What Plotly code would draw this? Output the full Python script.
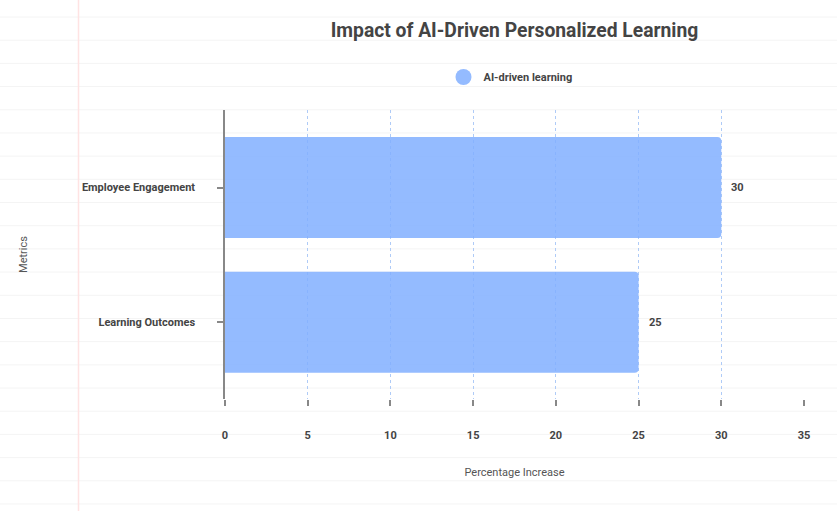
import plotly.graph_objects as go

# Data
metrics = ["Employee Engagement", "Learning Outcomes"]
increase = [30, 25]
series_name = "AI-driven learning"
x_ticks = [0, 5, 10, 15, 20, 25, 30, 35]

W, H = 837, 511
ML, MR, MT, MB = 225, 33, 110, 112
PW, PH = W - ML - MR, H - MT - MB

fig = go.Figure()

fig.add_trace(go.Bar(
    x=increase, y=metrics, orientation="h",
    width=0.75,
    marker=dict(color="rgba(129,175,255,0.85)", line=dict(width=0)),
    showlegend=False, hoverinfo="x+y",
))

# legend entry with round marker
fig.add_trace(go.Scatter(
    x=[None], y=[None], mode="markers", name=series_name,
    marker=dict(symbol="circle", size=16, color="#94bbff"),
))

# value labels next to bar ends
for m, v in zip(metrics, increase):
    fig.add_annotation(x=v, y=m, text=f"<b>{v}</b>", showarrow=False,
                       xanchor="left", xshift=8,
                       font=dict(family="Roboto", size=11, color="#444"))

# notebook-paper background
shapes = []
py = 17.0
while py < H:
    yp = (H - MB - py) / PH
    shapes.append(dict(type="line", xref="paper", yref="paper",
                       x0=-ML / PW, x1=(W - ML) / PW, y0=yp, y1=yp,
                       line=dict(color="#f4f4f4", width=1), layer="below"))
    py += 23.19
xp = (78.5 - ML) / PW
shapes.append(dict(type="line", xref="paper", yref="paper",
                   x0=xp, x1=xp, y0=-MB / PH, y1=(H - MB) / PH,
                   line=dict(color="#ffe3e3", width=1.5), layer="below"))

fig.update_layout(
    width=W, height=H,
    margin=dict(l=ML, r=MR, t=MT, b=MB),
    paper_bgcolor="white", plot_bgcolor="rgba(0,0,0,0)",
    font=dict(family="Roboto", size=11, color="#555"),
    title=dict(text="<b>Impact of AI-Driven Personalized Learning</b>",
               x=(ML + PW / 2) / W, xanchor="center", y=1 - 30 / H, yanchor="middle",
               font=dict(family="Roboto", size=19.3, color="#444")),
    legend=dict(orientation="h", x=0.5 - 4 / PW, xanchor="center", xref="paper",
                y=1 + (MT - 77) / PH, yanchor="middle",
                font=dict(family="Roboto", size=11, color="#444", weight="bold"),
                bgcolor="rgba(0,0,0,0)"),
    shapes=shapes,
    barcornerradius=4,
)

fig.update_xaxes(
    range=[0, 35], tickvals=x_ticks,
    showgrid=True, gridcolor="#afcbf7", griddash="dot", gridwidth=1,
    zeroline=False, showline=False,
    ticks="outside", ticklen=6, tickcolor="#888", tickwidth=1.5,
    ticklabelstandoff=20,
    tickfont=dict(family="Roboto", size=11, color="#444", weight="bold"),
    title=dict(text="Percentage Increase", standoff=27,
               font=dict(family="Roboto", size=11, color="#555")),
)

fig.update_yaxes(
    categoryorder="array", categoryarray=metrics,
    range=[1.569, -0.575],
    showgrid=False, zeroline=False,
    showline=True, linecolor="#888", linewidth=1.5,
    ticks="outside", ticklen=6, tickcolor="#888", tickwidth=1.5,
    ticklabelstandoff=20,
    tickfont=dict(family="Roboto", size=11, color="#444", weight="bold"),
    title=dict(text="Metrics", standoff=52,
               font=dict(family="Roboto", size=11, color="#555")),
)

fig.write_html("out.html", config={"displayModeBar": False},
               post_script="document.body.style.margin='0';")
